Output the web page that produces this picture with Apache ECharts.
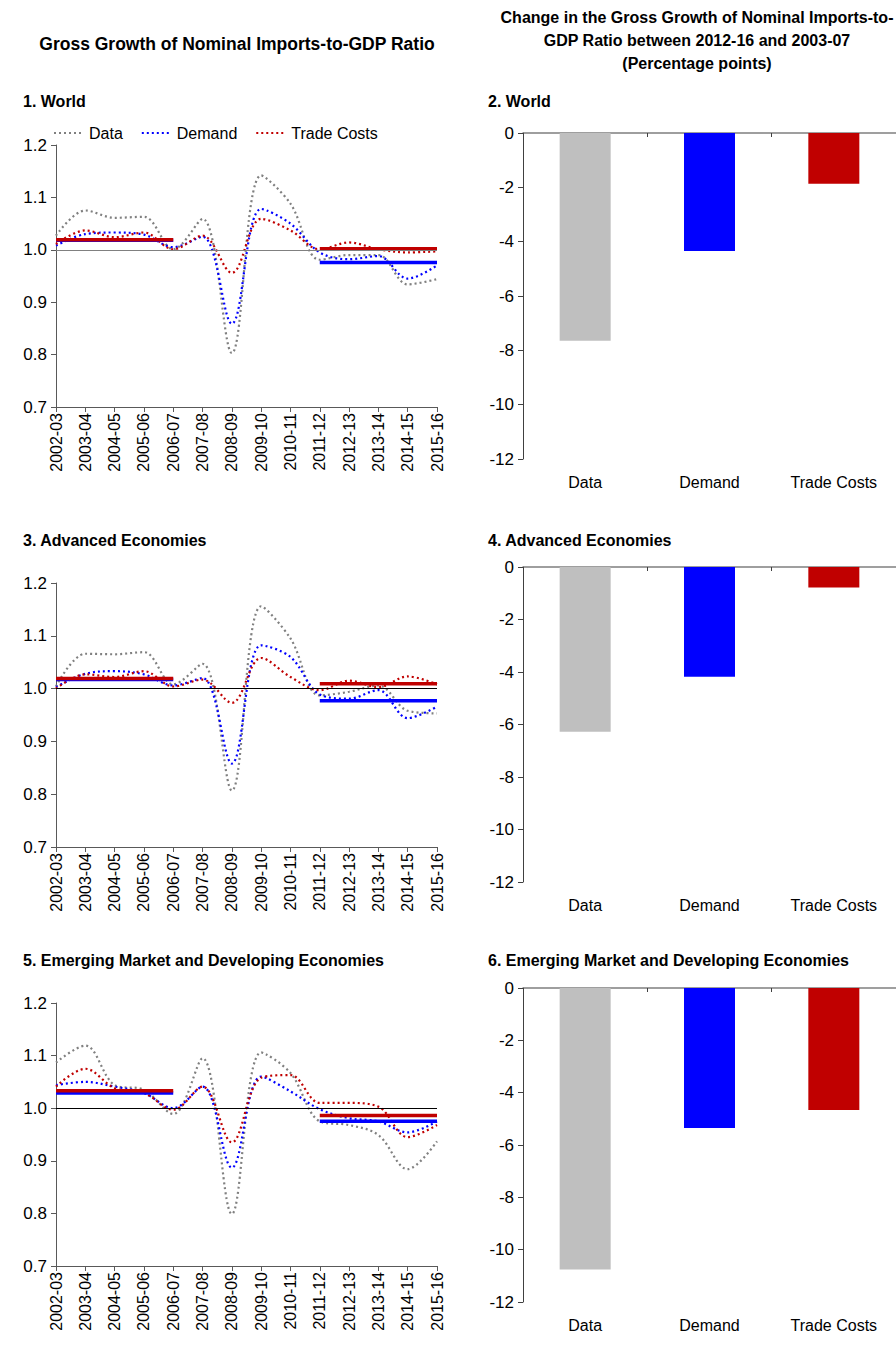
<!DOCTYPE html>
<html>
<head>
<meta charset="utf-8">
<script src="https://cdn.jsdelivr.net/npm/echarts@6/dist/echarts.min.js"></script>
<style>
html,body{margin:0;padding:0;background:#fff;}
#c{width:896px;height:1345px;}
</style>
</head>
<body>
<div id="c"></div>
<script>
// ---------- DATA ----------
const categories = ['2002-03','2003-04','2004-05','2005-06','2006-07','2007-08','2008-09','2009-10','2010-11','2011-12','2012-13','2013-14','2014-15','2015-16'];

// 1. World
const worldData   = [1.027,1.075,1.061,1.063,1.001,1.059,0.803,1.142,1.088,0.981,0.990,0.990,0.934,0.944];
const worldDemand = [1.008,1.030,1.033,1.029,1.005,1.025,0.859,1.078,1.050,0.995,0.982,0.988,0.945,0.970];
const worldTrade  = [1.011,1.037,1.024,1.033,1.001,1.027,0.956,1.059,1.037,1.001,1.014,1.001,0.995,0.997];
const worldAvgBefore = {demand:1.018, trade:1.019};
const worldAvgAfter  = {demand:0.976, trade:1.002};

// 3. Advanced Economies
const advData   = [1.004,1.066,1.065,1.069,1.008,1.047,0.807,1.156,1.095,0.987,0.994,1.006,0.958,0.953];
const advDemand = [1.003,1.028,1.033,1.027,1.006,1.020,0.858,1.082,1.060,0.989,0.981,0.997,0.944,0.966];
const advTrade  = [1.000,1.027,1.022,1.033,1.004,1.017,0.973,1.058,1.022,0.997,1.015,1.003,1.023,1.008];
const advAvgBefore = {demand:1.017, trade:1.019};
const advAvgAfter  = {demand:0.977, trade:1.009};

// 5. Emerging Market and Developing Economies
const emeData   = [1.087,1.119,1.044,1.035,0.989,1.095,0.799,1.106,1.067,0.975,0.968,0.949,0.884,0.937];
const emeDemand = [1.044,1.050,1.041,1.029,1.000,1.041,0.887,1.060,1.032,0.998,0.981,0.975,0.954,0.975];
const emeTrade  = [1.041,1.075,1.038,1.029,0.997,1.041,0.935,1.058,1.063,1.010,1.010,1.003,0.945,0.968];
const emeAvgBefore = {demand:1.029, trade:1.033};
const emeAvgAfter  = {demand:0.975, trade:0.986};

// Bar panels (percentage points)
const barCategories = ['Data','Demand','Trade Costs'];
const barWorld = [-7.65,-4.34,-1.87];
const barAdv   = [-6.28,-4.18,-0.78];
const barEme   = [-10.76,-5.35,-4.66];

const yTicksLeft = [0.7,0.8,0.9,1.0,1.1,1.2];
const yTicksBar  = [-12,-10,-8,-6,-4,-2,0];

// ---------- STYLE ----------
const FONT = 'Liberation Sans, Arial, sans-serif';
const colData = '#808080', colDemand = '#0000FF', colTrade = '#C00000';
const barColors = ['#BFBFBF','#0000FF','#C00000'];
const axisCol = '#595959';

// before window: first 5 categories; after window: last 5 categories
function avgSeriesData(before, after){
  return categories.map((c,i)=> i<=4 ? before : (i>=9 ? after : null));
}

const chart = echarts.init(document.getElementById('c'), null, {renderer:'svg'});

const leftGrids = [
  {left:56, width:381, top:145, height:262},
  {left:56, width:381, top:583, height:264},
  {left:56, width:381, top:1003, height:263}
];
const rightGrids = [
  {left:523, width:377, top:133, height:326},
  {left:523, width:377, top:567, height:315},
  {left:523, width:377, top:988, height:314}
];
const grids = [];
const xAxes = [], yAxes = [], series = [];

const leftSets = [
  {d:worldData, dm:worldDemand, tc:worldTrade, b:worldAvgBefore, a:worldAvgAfter, oneCol:'#808080'},
  {d:advData, dm:advDemand, tc:advTrade, b:advAvgBefore, a:advAvgAfter, oneCol:'#000000'},
  {d:emeData, dm:emeDemand, tc:emeTrade, b:emeAvgBefore, a:emeAvgAfter, oneCol:'#000000'}
];
const barSets = [barWorld, barAdv, barEme];

leftSets.forEach((s,k)=>{
  const gi = grids.length;
  grids.push(Object.assign({containLabel:false}, leftGrids[k]));
  const xi = xAxes.length;
  xAxes.push({
    type:'category', gridIndex:gi, data:categories, boundaryGap:false,
    axisLine:{show:true, onZero:false, lineStyle:{color:axisCol, width:1}},
    axisTick:{show:true, length:5, lineStyle:{color:axisCol}},
    axisLabel:{rotate:90, color:'#000', fontFamily:FONT, fontSize:16, margin:6, interval:0},
    splitLine:{show:false}
  });
  const yi = yAxes.length;
  yAxes.push({
    type:'value', gridIndex:gi, min:yTicksLeft[0], max:yTicksLeft[yTicksLeft.length-1], interval:0.1,
    axisLine:{show:true, lineStyle:{color:axisCol, width:1}},
    axisTick:{show:true, length:5, lineStyle:{color:axisCol}},
    axisLabel:{color:'#000', fontFamily:FONT, fontSize:17, margin:9, formatter:v=>v.toFixed(1)},
    splitLine:{show:false}
  });
  const dotted = (name, data, color)=>({
    name, type:'line', xAxisIndex:xi, yAxisIndex:yi, data, smooth:0.35,
    symbol:'none', showSymbol:false, silent:true,
    lineStyle:{color, width:2.2, type:[2,3]}, itemStyle:{color}
  });
  const dataSeries = dotted('Data', s.d, colData);
  dataSeries.markLine = {
    silent:true, symbol:'none', label:{show:false}, animation:false,
    lineStyle:{color:s.oneCol, width:1, type:'solid'}, data:[{yAxis:1.0}]
  };
  dataSeries.z = 2;
  series.push(dataSeries);
  series.push(dotted('Demand', s.dm, colDemand));
  series.push(dotted('Trade Costs', s.tc, colTrade));
  series.push({name:'Demand avg', type:'line', xAxisIndex:xi, yAxisIndex:yi,
    data:avgSeriesData(s.b.demand, s.a.demand), connectNulls:false, symbol:'none', silent:true,
    lineStyle:{color:colDemand, width:3.5, type:'solid'}, z:3});
  series.push({name:'Trade Costs avg', type:'line', xAxisIndex:xi, yAxisIndex:yi,
    data:avgSeriesData(s.b.trade, s.a.trade), connectNulls:false, symbol:'none', silent:true,
    lineStyle:{color:colTrade, width:3.5, type:'solid'}, z:3});
});

barSets.forEach((vals,k)=>{
  const gi = grids.length;
  grids.push(Object.assign({containLabel:false}, rightGrids[k]));
  const xiLab = xAxes.length;
  xAxes.push({
    type:'category', gridIndex:gi, data:barCategories, position:'bottom',
    axisLine:{show:false, onZero:false}, axisTick:{show:false},
    axisLabel:{color:'#000', fontFamily:FONT, fontSize:16, margin:15}
  });
  xAxes.push({
    type:'category', gridIndex:gi, data:barCategories, position:'top',
    axisLine:{show:true, onZero:false, lineStyle:{color:'#7f7f7f', width:1.5}},
    axisTick:{show:true, inside:true, length:4, lineStyle:{color:'#404040'}},
    axisLabel:{show:false}
  });
  const yi = yAxes.length;
  yAxes.push({
    type:'value', gridIndex:gi, min:yTicksBar[0], max:yTicksBar[yTicksBar.length-1], interval:2,
    axisLine:{show:true, lineStyle:{color:'#404040', width:1}},
    axisTick:{show:true, length:5, lineStyle:{color:'#404040'}},
    axisLabel:{color:'#000', fontFamily:FONT, fontSize:17, margin:9},
    splitLine:{show:false}
  });
  series.push({
    type:'bar', xAxisIndex:xiLab, yAxisIndex:yi, barWidth:51, silent:true,
    data: vals.map((v,i)=>({value:v, itemStyle:{color:barColors[i]}}))
  });
});

const txt = (text, x, y, size, align, bold=true)=>({
  type:'text', x, y, silent:true,
  style:{text, x:0, y:0, fill:'#000', font:(bold?'bold ':'')+size+'px '+FONT, textAlign:align, textVerticalAlign:'middle'}
});

const graphics = [
  txt('Gross Growth of Nominal Imports-to-GDP Ratio', 237, 44, 17.5, 'center'),
  txt('Change in the Gross Growth of Nominal Imports-to-', 697, 17, 16, 'center'),
  txt('GDP Ratio between 2012-16 and 2003-07', 697, 40, 16, 'center'),
  txt('(Percentage points)', 697, 63, 16, 'center'),
  txt('1. World', 23, 101, 16, 'left'),
  txt('2. World', 488, 101, 16, 'left'),
  txt('3. Advanced Economies', 23, 540, 16, 'left'),
  txt('4. Advanced Economies', 488, 540, 16, 'left'),
  txt('5. Emerging Market and Developing Economies', 23, 960, 16, 'left'),
  txt('6. Emerging Market and Developing Economies', 488, 960, 16, 'left')
];

chart.setOption({
  animation:false,
  backgroundColor:'#fff',
  textStyle:{fontFamily:FONT},
  grid:grids,
  xAxis:xAxes,
  yAxis:yAxes,
  legend:{
    data:['Data','Demand','Trade Costs'], left:48, top:120, itemWidth:30, itemHeight:14, itemGap:18,
    itemStyle:{opacity:0},
    textStyle:{color:'#000', fontFamily:FONT, fontSize:16}, selectedMode:false
  },
  graphic:graphics,
  series
});
</script>
</body>
</html>
